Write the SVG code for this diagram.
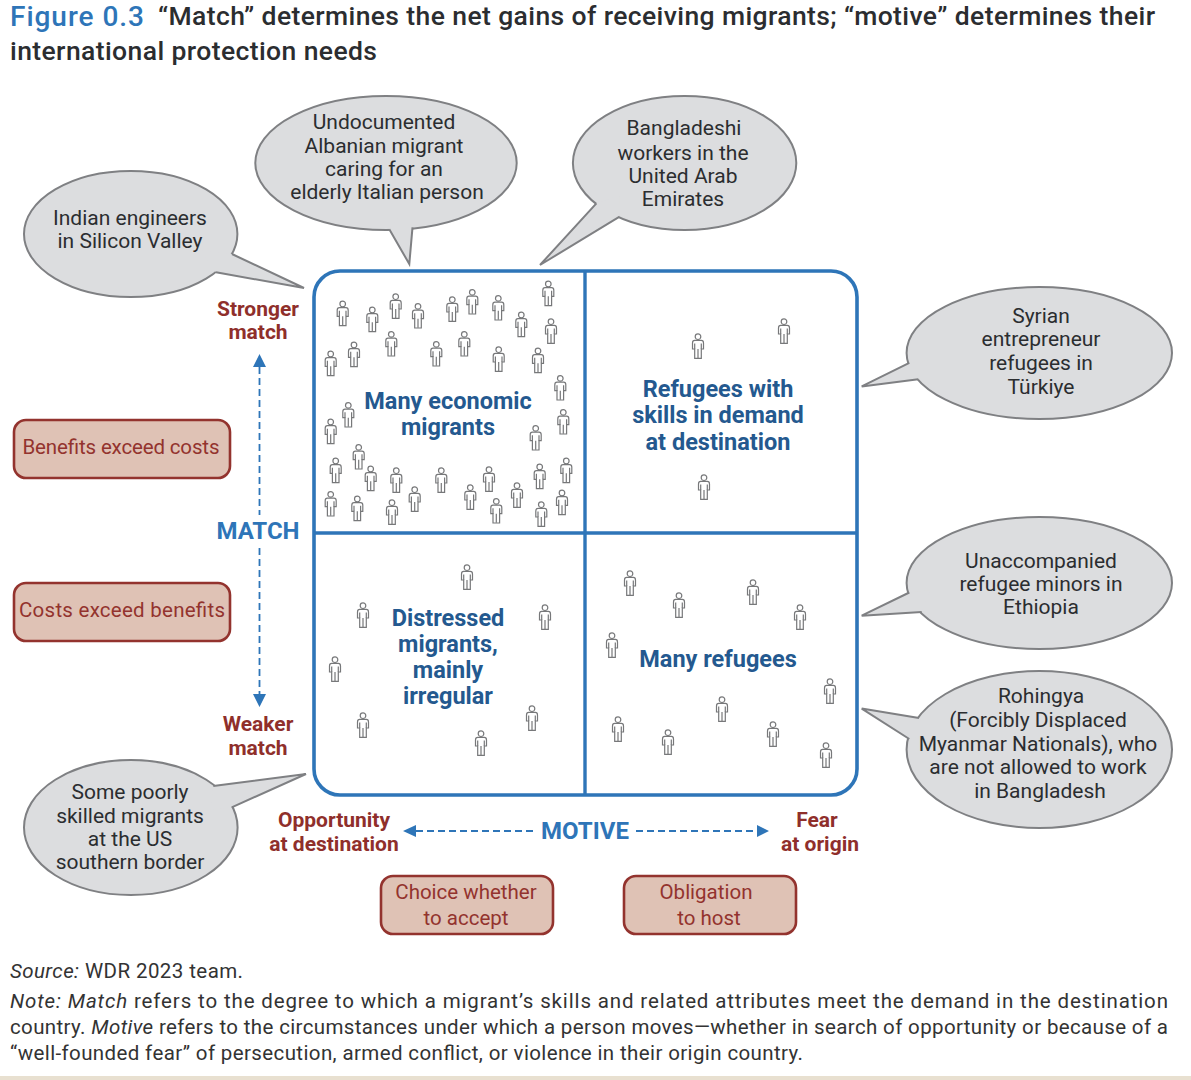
<svg xmlns="http://www.w3.org/2000/svg" width="1191" height="1080" viewBox="0 0 1191 1080">
<style>
text{font-family:Roboto,"Liberation Sans",sans-serif}
.call{fill:#dcdddf;stroke:#7f8083;stroke-width:2}
.tail{fill:#dcdddf;stroke:none}
.edge{fill:none;stroke:#7f8083;stroke-width:2;stroke-linejoin:miter}
.ct{font-size:21px;fill:#2b2d30;text-anchor:middle}
.box{fill:#dfc2b5;stroke:#93332e;stroke-width:2.6}
.bt{font-size:20.5px;fill:#93332e;text-anchor:middle}
.rl{font-size:21px;font-weight:700;fill:#8f2f2b;text-anchor:middle}
.ax{font-size:24px;font-weight:700;fill:#2e75b8;text-anchor:middle}
.q{font-size:23.5px;font-weight:700;fill:#24598f;text-anchor:middle}
.dash{fill:none;stroke:#2e75b8;stroke-width:1.8;stroke-dasharray:7 4}
.ah{fill:#2e75b8}
.frame{fill:#fff;stroke:#2e75b8;stroke-width:3.6}
.div{stroke:#2e75b8;stroke-width:3.4}
.p{fill:#fff;stroke:#77787a;stroke-width:1.2}
.n{font-size:20.500px;fill:#333}
.title{font-size:26.5px;font-weight:500;fill:#2b2d30}
.fig{font-size:28px;font-weight:500;fill:#2e75b8}
</style>
<defs>
<g id="person">
<circle class="p" cx="0" cy="-9.3" r="2.8"/>
<path class="p" d="M-3.3,-5.6 H3.3 Q5.5,-5.6 5.5,-3 V3 H3.3 V12.3 H-3.3 V3 H-5.5 V-3 Q-5.5,-5.6 -3.3,-5.6 Z"/>
<path class="p" d="M-3.3,-2.5 V3 M3.3,-2.5 V3 M0,3 V12"/>
</g>
</defs>
<rect width="1191" height="1080" fill="#fff"/>
<rect y="1076" width="1191" height="4" fill="#e8e0d0"/>
<g id="title">
<text class="fig" x="10" y="26" textLength="134">Figure 0.3</text>
<text class="title" x="158" y="25" textLength="997">“Match” determines the net gains of receiving migrants; “motive” determines their</text>
<text class="title" x="10" y="60" textLength="367">international protection needs</text>
</g>
<g id="matrix">
<rect class="frame" x="314" y="271" width="543" height="524" rx="26"/>
<line class="div" x1="585" y1="271" x2="585" y2="795"/>
<line class="div" x1="314" y1="533" x2="857" y2="533"/>
</g>
<g id="people">
<use href="#person" x="342.7" y="313.3"/><use href="#person" x="372.3" y="319.3"/><use href="#person" x="395.7" y="306"/><use href="#person" x="418" y="315.7"/><use href="#person" x="452.3" y="309"/><use href="#person" x="472.3" y="301.7"/><use href="#person" x="498.3" y="307.7"/><use href="#person" x="521.3" y="324.3"/><use href="#person" x="548.3" y="293.3"/><use href="#person" x="551" y="331"/><use href="#person" x="391.3" y="343.7"/><use href="#person" x="354" y="354.3"/><use href="#person" x="330.7" y="363.3"/><use href="#person" x="436.3" y="353.7"/><use href="#person" x="464.3" y="343.7"/><use href="#person" x="498.7" y="359"/><use href="#person" x="538" y="360.3"/><use href="#person" x="560.3" y="387.7"/><use href="#person" x="348.3" y="414.7"/><use href="#person" x="330.7" y="431.3"/><use href="#person" x="563.3" y="421.7"/><use href="#person" x="535.7" y="437.7"/><use href="#person" x="358.7" y="456.7"/><use href="#person" x="335.7" y="470.3"/><use href="#person" x="370.7" y="478.3"/><use href="#person" x="396.3" y="480"/><use href="#person" x="441.3" y="480"/><use href="#person" x="489" y="479"/><use href="#person" x="539.7" y="476.3"/><use href="#person" x="566.3" y="470.3"/><use href="#person" x="330.7" y="503.7"/><use href="#person" x="357.3" y="508.3"/><use href="#person" x="392" y="512"/><use href="#person" x="414.7" y="499"/><use href="#person" x="470.3" y="497"/><use href="#person" x="496.3" y="510.7"/><use href="#person" x="517" y="495"/><use href="#person" x="541.3" y="514"/><use href="#person" x="562" y="502.3"/>
<use href="#person" x="784" y="331"/><use href="#person" x="698" y="346"/><use href="#person" x="704" y="487"/>
<use href="#person" x="467" y="577"/><use href="#person" x="363" y="615"/><use href="#person" x="545" y="617"/><use href="#person" x="335" y="669"/><use href="#person" x="363" y="725"/><use href="#person" x="532" y="718"/><use href="#person" x="481" y="743"/>
<use href="#person" x="630" y="583"/><use href="#person" x="679" y="605"/><use href="#person" x="753" y="592"/><use href="#person" x="800" y="617"/><use href="#person" x="612" y="645"/><use href="#person" x="830" y="691"/><use href="#person" x="722" y="709"/><use href="#person" x="618" y="729"/><use href="#person" x="668" y="742"/><use href="#person" x="773" y="734"/><use href="#person" x="826" y="755"/>
</g>
<g id="q1"><text class="q" x="448" y="409">Many economic</text><text class="q" x="448" y="435">migrants</text></g>
<g id="q2"><text class="q" x="718" y="397">Refugees with</text><text class="q" x="718" y="423">skills in demand</text><text class="q" x="718" y="450">at destination</text></g>
<g id="q3"><text class="q" x="448" y="626">Distressed</text><text class="q" x="448" y="652">migrants,</text><text class="q" x="448" y="678">mainly</text><text class="q" x="448" y="704">irregular</text></g>
<g id="q4"><text class="q" x="718" y="667">Many refugees</text></g>
<g id="c-indian"><ellipse class="call" cx="130.700" cy="234" rx="106.700" ry="63"/><path class="tail" d="M232,254 L304,288 L216,272.300 L200,250 Z"/><path class="edge" d="M232,254 L304,288 L216,272.300"/><text class="ct" x="130" y="225">Indian engineers</text><text class="ct" x="130" y="248">in Silicon Valley</text></g>
<g id="c-albanian"><ellipse class="call" cx="386" cy="163" rx="130.700" ry="67"/><path class="tail" d="M389.300,229.300 L409.300,264 L412.500,227.300 L400,215 Z"/><path class="edge" d="M389.300,229.300 L409.300,264 L412.500,227.300"/><text class="ct" x="384" y="129">Undocumented</text><text class="ct" x="384" y="153">Albanian migrant</text><text class="ct" x="384" y="176">caring for an</text><text class="ct" x="387" y="199">elderly Italian person</text></g>
<g id="c-bangla"><ellipse class="call" cx="684.600" cy="163" rx="111.700" ry="67"/><path class="tail" d="M596.400,203.300 L540,265 L619.600,216.700 L620,195 Z"/><path class="edge" d="M596.400,203.300 L540,265 L619.600,216.700"/><text class="ct" x="684" y="135">Bangladeshi</text><text class="ct" x="683" y="160">workers in the</text><text class="ct" x="683" y="183">United Arab</text><text class="ct" x="683" y="206">Emirates</text></g>
<g id="c-syrian"><ellipse class="call" cx="1039.300" cy="353" rx="132.700" ry="66"/><path class="tail" d="M909.300,362.900 L861.700,386.400 L918.300,379.300 L930,360 Z"/><path class="edge" d="M909.300,362.900 L861.700,386.400 L918.300,379.300"/><text class="ct" x="1041" y="323">Syrian</text><text class="ct" x="1041" y="346">entrepreneur</text><text class="ct" x="1041" y="370">refugees in</text><text class="ct" x="1041" y="394">Türkiye</text></g>
<g id="c-ethiopia"><ellipse class="call" cx="1039.300" cy="583" rx="132.700" ry="66"/><path class="tail" d="M909.300,592.500 L861.700,615.700 L921.700,612 L930,590 Z"/><path class="edge" d="M909.300,592.500 L861.700,615.700 L921.700,612"/><text class="ct" x="1041" y="568">Unaccompanied</text><text class="ct" x="1041" y="591">refugee minors in</text><text class="ct" x="1041" y="614">Ethiopia</text></g>
<g id="c-rohingya"><ellipse class="call" cx="1039.300" cy="749.500" rx="132.700" ry="78.500"/><path class="tail" d="M919,718 L861.700,708.600 L909.300,739 L930,735 Z"/><path class="edge" d="M919,718 L861.700,708.600 L909.300,739"/><text class="ct" x="1041" y="703">Rohingya</text><text class="ct" x="1038" y="727">(Forcibly Displaced</text><text class="ct" x="1038" y="751">Myanmar Nationals), who</text><text class="ct" x="1038" y="774">are not allowed to work</text><text class="ct" x="1040" y="798">in Bangladesh</text></g>
<g id="c-border"><ellipse class="call" cx="130.800" cy="827.500" rx="106.800" ry="67.500"/><path class="tail" d="M213.300,786 L306,774 L231.700,807.300 L210,810 Z"/><path class="edge" d="M213.300,786 L306,774 L231.700,807.300"/><text class="ct" x="130" y="799">Some poorly</text><text class="ct" x="130" y="823">skilled migrants</text><text class="ct" x="130" y="846">at the US</text><text class="ct" x="130" y="869">southern border</text></g>
<g id="b-benefits"><rect class="box" x="14" y="420" width="216" height="58" rx="12"/><text class="bt" x="121" y="454" textLength="197">Benefits exceed costs</text></g>
<g id="b-costs"><rect class="box" x="14" y="583" width="216" height="58" rx="12"/><text class="bt" x="122" y="617" textLength="206">Costs exceed benefits</text></g>
<g id="b-choice"><rect class="box" x="381" y="876" width="172" height="58" rx="12"/><text class="bt" x="466" y="899">Choice whether</text><text class="bt" x="466" y="925">to accept</text></g>
<g id="b-oblig"><rect class="box" x="624" y="876" width="172" height="58" rx="12"/><text class="bt" x="706" y="899">Obligation</text><text class="bt" x="709" y="925">to host</text></g>
<g id="connectors">
<path class="dash" d="M259.500,367 V515 M259.500,548 V694"/>
<path class="ah" d="M259.500,354 L266,367 H253 Z M259.500,707 L266,694 H253 Z"/>
<path class="dash" d="M416,831 H534 M636,831 H757"/>
<path class="ah" d="M403,831 L416,825 V837 Z M769,831 L757,825 V837 Z"/>
</g>
<g id="labels">
<text class="rl" x="258" y="316">Stronger</text><text class="rl" x="258" y="339">match</text>
<text class="rl" x="258" y="731">Weaker</text><text class="rl" x="258" y="755">match</text>
<text class="rl" x="334" y="827">Opportunity</text><text class="rl" x="334" y="851">at destination</text>
<text class="rl" x="817" y="827">Fear</text><text class="rl" x="820" y="851">at origin</text>
<text class="ax" x="258" y="539">MATCH</text>
<text class="ax" x="585" y="839">MOTIVE</text>
</g>
<g id="notes">
<text class="n" x="10" y="978" textLength="233"><tspan font-style="italic">Source:</tspan> WDR 2023 team.</text>
<text class="n" x="10" y="1008" textLength="1158"><tspan font-style="italic">Note: Match</tspan> refers to the degree to which a migrant’s skills and related attributes meet the demand in the destination</text>
<text class="n" x="10" y="1034" textLength="1158">country. <tspan font-style="italic">Motive</tspan> refers to the circumstances under which a person moves—whether in search of opportunity or because of a</text>
<text class="n" x="10" y="1060" textLength="793">“well-founded fear” of persecution, armed conflict, or violence in their origin country.</text>
</g>
</svg>
